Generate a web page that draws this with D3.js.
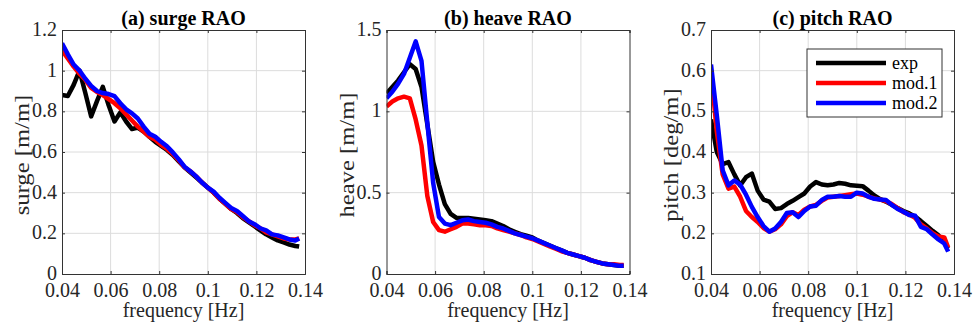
<!DOCTYPE html>
<html>
<head>
<meta charset="utf-8">
<script src="https://cdn.jsdelivr.net/npm/d3@7"></script>
<style>
  body { margin: 0; background: #fff; }
  svg { display: block; font-family: "Times New Roman", "Liberation Serif", serif; }
</style>
</head>
<body>
<svg id="chart" width="973" height="325"></svg>
<script>
// frequency grid shared by all series [Hz]
const freq = [0.040, 0.0424, 0.0448, 0.0472, 0.0496, 0.052, 0.0544, 0.0568, 0.0592, 0.0616,
    0.064, 0.0664, 0.0688, 0.0712, 0.0736, 0.076, 0.0784, 0.0808, 0.0832, 0.0856,
    0.088, 0.0904, 0.0928, 0.0952, 0.0976, 0.1, 0.1024, 0.1048, 0.1072, 0.1096,
    0.112, 0.1144, 0.1168, 0.1192, 0.1216, 0.124, 0.1264, 0.1288, 0.1312, 0.1336,
    0.136, 0.1376];

// (a) surge [m/m]
const surgeExp = [0.88, 0.875, 0.93, 1.0, 0.89, 0.775, 0.85, 0.92, 0.83, 0.75,
    0.795, 0.75, 0.713, 0.72, 0.70, 0.675, 0.65, 0.63, 0.61, 0.585,
    0.555, 0.525, 0.50, 0.475, 0.45, 0.425, 0.40, 0.37, 0.345, 0.32,
    0.30, 0.275, 0.255, 0.235, 0.215, 0.195, 0.18, 0.165, 0.155, 0.145,
    0.138, 0.135];
const surgeMod1 = [1.10, 1.06, 1.02, 0.985, 0.955, 0.915, 0.895, 0.88, 0.86, 0.84,
    0.815, 0.785, 0.755, 0.725, 0.70, 0.675, 0.66, 0.635, 0.615, 0.59,
    0.56, 0.525, 0.505, 0.48, 0.45, 0.425, 0.40, 0.37, 0.345, 0.32,
    0.305, 0.28, 0.26, 0.24, 0.225, 0.205, 0.195, 0.185, 0.175, 0.17,
    0.17, 0.175];
const surgeMod2 = [1.135, 1.08, 1.03, 1.0, 0.96, 0.925, 0.90, 0.89, 0.885, 0.875,
    0.84, 0.81, 0.79, 0.765, 0.725, 0.69, 0.675, 0.65, 0.628, 0.598,
    0.565, 0.528, 0.505, 0.48, 0.45, 0.425, 0.405, 0.375, 0.35, 0.325,
    0.31, 0.285, 0.26, 0.245, 0.225, 0.215, 0.195, 0.19, 0.18, 0.17,
    0.165, 0.175];

// (b) heave [m/m]
const heaveExp = [1.11, 1.15, 1.19, 1.24, 1.29, 1.26, 1.15, 0.92, 0.69, 0.55,
    0.43, 0.37, 0.345, 0.345, 0.345, 0.34, 0.335, 0.33, 0.325, 0.31,
    0.295, 0.275, 0.26, 0.245, 0.235, 0.225, 0.205, 0.19, 0.175, 0.16,
    0.145, 0.13, 0.12, 0.11, 0.10, 0.085, 0.075, 0.065, 0.06, 0.055,
    0.05, 0.05];
const heaveMod1 = [1.03, 1.06, 1.08, 1.09, 1.08, 0.95, 0.79, 0.48, 0.32, 0.27,
    0.26, 0.275, 0.29, 0.31, 0.31, 0.305, 0.30, 0.30, 0.295, 0.28,
    0.27, 0.26, 0.25, 0.24, 0.225, 0.215, 0.20, 0.185, 0.17, 0.155,
    0.14, 0.13, 0.12, 0.11, 0.10, 0.085, 0.075, 0.065, 0.06, 0.06,
    0.055, 0.055];
const heaveMod2 = [1.08, 1.12, 1.17, 1.23, 1.33, 1.43, 1.31, 0.93, 0.56, 0.35,
    0.31, 0.30, 0.315, 0.33, 0.335, 0.325, 0.32, 0.315, 0.305, 0.29,
    0.28, 0.265, 0.25, 0.24, 0.23, 0.22, 0.205, 0.19, 0.175, 0.16,
    0.145, 0.13, 0.12, 0.11, 0.10, 0.085, 0.075, 0.065, 0.06, 0.055,
    0.05, 0.05];

// (c) pitch [deg/m]
const pitchExp = [0.48, 0.40, 0.37, 0.375, 0.345, 0.318, 0.338, 0.347, 0.305, 0.283,
    0.278, 0.26, 0.262, 0.272, 0.28, 0.289, 0.298, 0.315, 0.326, 0.32,
    0.318, 0.32, 0.324, 0.322, 0.318, 0.317, 0.316, 0.305, 0.293, 0.284,
    0.278, 0.27, 0.262, 0.255, 0.249, 0.241, 0.23, 0.218, 0.206, 0.195,
    0.178, 0.163];
const pitchMod1 = [0.60, 0.45, 0.345, 0.31, 0.315, 0.29, 0.255, 0.24, 0.228, 0.213,
    0.204, 0.21, 0.222, 0.242, 0.252, 0.245, 0.258, 0.266, 0.27, 0.28,
    0.288, 0.29, 0.292, 0.294, 0.296, 0.298, 0.295, 0.29, 0.286, 0.283,
    0.279, 0.272, 0.262, 0.252, 0.246, 0.238, 0.222, 0.212, 0.20, 0.192,
    0.19, 0.165];
const pitchMod2 = [0.615, 0.49, 0.355, 0.318, 0.33, 0.32, 0.295, 0.265, 0.24, 0.218,
    0.204, 0.212, 0.228, 0.25, 0.252, 0.24, 0.255, 0.266, 0.268, 0.282,
    0.29, 0.29, 0.292, 0.29, 0.29, 0.30, 0.298, 0.29, 0.285, 0.283,
    0.282, 0.27, 0.26, 0.253, 0.245, 0.243, 0.216, 0.21, 0.197, 0.185,
    0.175, 0.155];

const xTicks = [0.04, 0.06, 0.08, 0.1, 0.12, 0.14];
const surgeTicks = [0, 0.2, 0.4, 0.6, 0.8, 1, 1.2];
const heaveTicks = [0, 0.5, 1, 1.5];
const pitchTicks = [0.1, 0.2, 0.3, 0.4, 0.5, 0.6, 0.7];

const titles = ["(a) surge RAO", "(b) heave RAO", "(c) pitch RAO"];
const yLabels = ["surge [m/m]", "heave [m/m]", "pitch [deg/m]"];
const seriesNames = ["exp", "mod.1", "mod.2"];
const seriesColors = ["#000000", "#ff0000", "#0000ff"];

let panels = [
    {title: titles[0], ylabel: yLabels[0], yticks: surgeTicks, series: [surgeExp, surgeMod1, surgeMod2]},
    {title: titles[1], ylabel: yLabels[1], yticks: heaveTicks, series: [heaveExp, heaveMod1, heaveMod2]},
    {title: titles[2], ylabel: yLabels[2], yticks: pitchTicks, series: [pitchExp, pitchMod1, pitchMod2], legend: true}
];

let svg = d3.select("#chart");
let top_y = 30, plot_h = 244, plot_w = 243;
let fmt = d3.format("~g");

panels.forEach(function(p, i) {
    let left = 62 + i * 324.5;
    let x = d3.scaleLinear().domain([0.04, 0.14]).range([left, left + plot_w]);
    let y = d3.scaleLinear().domain(d3.extent(p.yticks)).range([top_y + plot_h, top_y]);

    let g = svg.append("g");

    // light grid
    g.selectAll(".vgrid").data(xTicks.slice(1, -1)).enter().append("line")
        .attr("x1", d => x(d)).attr("x2", d => x(d))
        .attr("y1", top_y).attr("y2", top_y + plot_h)
        .attr("stroke", "#dcdcdc").attr("stroke-width", 1);
    g.selectAll(".hgrid").data(p.yticks.slice(1, -1)).enter().append("line")
        .attr("x1", left).attr("x2", left + plot_w)
        .attr("y1", d => y(d)).attr("y2", d => y(d))
        .attr("stroke", "#dcdcdc").attr("stroke-width", 1);

    let clipId = "clip" + i;
    svg.append("clipPath").attr("id", clipId).append("rect")
        .attr("x", left).attr("y", top_y).attr("width", plot_w).attr("height", plot_h);

    let line = d3.line().x((d, k) => x(freq[k])).y(d => y(d));
    p.series.forEach(function(s, j) {
        g.append("path")
            .datum(s)
            .attr("clip-path", "url(#" + clipId + ")")
            .attr("fill", "none")
            .attr("stroke", seriesColors[j])
            .attr("stroke-width", 4.5)
            .attr("stroke-linejoin", "round")
            .attr("d", line);
    });

    // axes, ticks pointing in like matlab's box
    let axB = g.append("g").attr("transform", "translate(0," + (top_y + plot_h) + ")")
        .call(d3.axisBottom(x).tickValues(xTicks).tickSize(-3).tickPadding(9).tickFormat(fmt));
    let axT = g.append("g").attr("transform", "translate(0," + top_y + ")")
        .call(d3.axisTop(x).tickValues(xTicks).tickSize(-3).tickFormat(""));
    let axL = g.append("g").attr("transform", "translate(" + left + ",0)")
        .call(d3.axisLeft(y).tickValues(p.yticks).tickSize(-3).tickPadding(5).tickFormat(fmt));
    let axR = g.append("g").attr("transform", "translate(" + (left + plot_w) + ",0)")
        .call(d3.axisRight(y).tickValues(p.yticks).tickSize(-3).tickFormat(""));

    [axB, axT, axL, axR].forEach(function(a) {
        a.select(".domain").attr("stroke", "#333").attr("stroke-width", 1);
        a.selectAll(".tick line").attr("stroke", "#333");
        a.selectAll("text")
            .attr("fill", "#262626")
            .style("font-family", '"Times New Roman", "Liberation Serif", serif')
            .style("font-size", "20px");
    });
    axL.selectAll("text").attr("dy", "0.28em");

    g.append("text")
        .attr("x", left + plot_w / 2).attr("y", 25)
        .attr("text-anchor", "middle")
        .style("font-size", "20px").style("font-weight", "bold")
        .text(p.title);

    g.append("text")
        .attr("x", left + plot_w / 2).attr("y", 317)
        .attr("text-anchor", "middle")
        .attr("fill", "#262626")
        .style("font-size", "20px")
        .text("frequency [Hz]");

    g.append("text")
        .attr("transform", "translate(" + (left - 33) + "," + (top_y + plot_h / 2 + 3) + ") scale(1,1.12) rotate(-90)")
        .attr("text-anchor", "middle")
        .attr("fill", "#262626")
        .style("font-size", "22px")
        .text(p.ylabel);

    if (p.legend) {
        let lg = g.append("g");
        lg.append("rect")
            .attr("x", 807).attr("y", 49).attr("width", 135).attr("height", 68)
            .attr("fill", "#fff").attr("stroke", "#333").attr("stroke-width", 1);
        seriesNames.forEach(function(name, j) {
            let yy = 63 + j * 20;
            lg.append("line")
                .attr("x1", 816).attr("x2", 886).attr("y1", yy).attr("y2", yy)
                .attr("stroke", seriesColors[j]).attr("stroke-width", 4.5);
            lg.append("text")
                .attr("x", 892).attr("y", yy + 6)
                .style("font-size", "18px")
                .text(name);
        });
    }
});
</script>
</body>
</html>
